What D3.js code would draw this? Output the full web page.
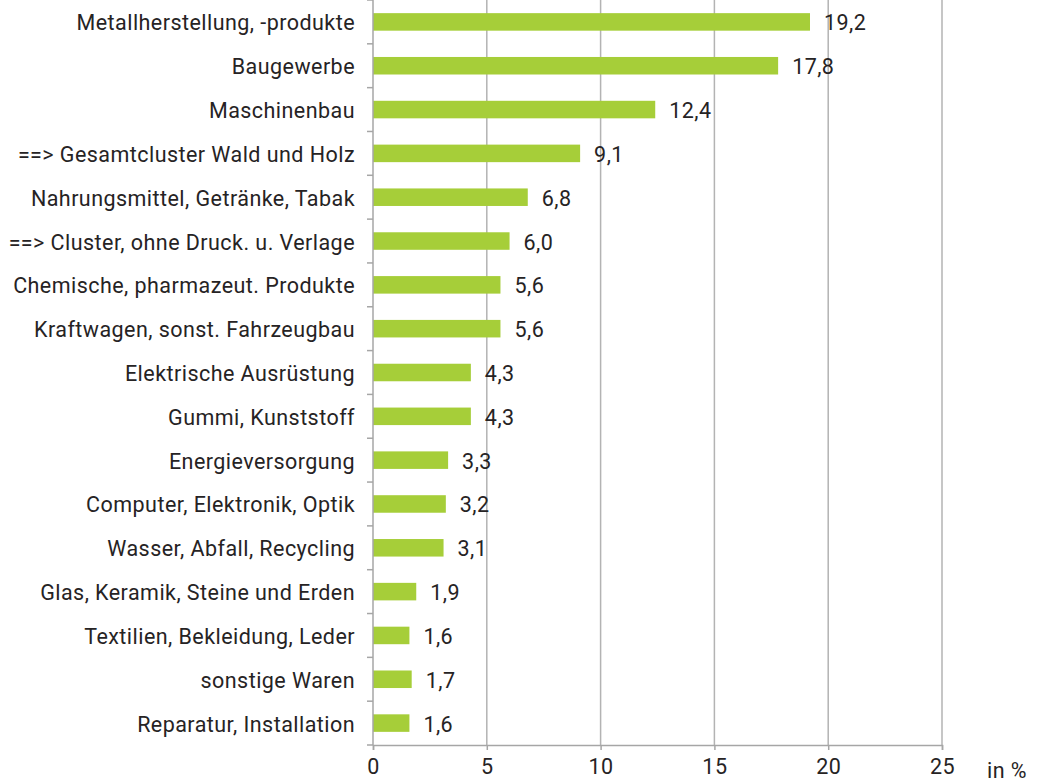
<!DOCTYPE html>
<html>
<head>
<meta charset="utf-8">
<script src="https://cdn.jsdelivr.net/npm/d3@7"></script>
<style>
  html, body { margin: 0; padding: 0; background: #fff; }
  svg { display: block; }
  text { font-family: Roboto, "Open Sans", sans-serif; font-weight: 400; fill: #262324; letter-spacing: 0.45px; }
</style>
</head>
<body>
<svg id="chart" width="1040" height="782"></svg>
<script>
// Sectors and their shares (in %)
const categories = [
  "Metallherstellung, -produkte",
  "Baugewerbe",
  "Maschinenbau",
  "==> Gesamtcluster Wald und Holz",
  "Nahrungsmittel, Getränke, Tabak",
  "==> Cluster, ohne Druck. u. Verlage",
  "Chemische, pharmazeut. Produkte",
  "Kraftwagen, sonst. Fahrzeugbau",
  "Elektrische Ausrüstung",
  "Gummi, Kunststoff",
  "Energieversorgung",
  "Computer, Elektronik, Optik",
  "Wasser, Abfall, Recycling",
  "Glas, Keramik, Steine und Erden",
  "Textilien, Bekleidung, Leder",
  "sonstige Waren",
  "Reparatur, Installation"
];
const values = [19.2, 17.8, 12.4, 9.1, 6.8, 6.0, 5.6, 5.6, 4.3, 4.3, 3.3, 3.2, 3.1, 1.9, 1.6, 1.7, 1.6];
const xTicks = [0, 5, 10, 15, 20, 25];
const unitLabel = "in %";

const svg = d3.select("#chart");
const plotLeft = 373, plotRight = 942, plotTop = 0, plotBottom = 745;
const fontSize = 21.5;

const x = d3.scaleLinear().domain([0, 25]).range([plotLeft, plotRight]);
const y = d3.scaleBand().domain(categories).range([plotTop, plotBottom]).paddingInner(0.6).paddingOuter(0.3);
const band = d3.scaleBand().domain(categories).range([plotTop, plotBottom]);

const fmt = v => d3.format(".1f")(v).replace(".", ",");

// vertical gridlines
svg.append("g").selectAll("line")
  .data(xTicks.filter(t => t > 0))
  .join("line")
  .attr("x1", d => x(d)).attr("x2", d => x(d))
  .attr("y1", plotTop).attr("y2", plotBottom)
  .attr("stroke", "#b3b3b3").attr("stroke-width", 1.5);

// bars
svg.append("g").selectAll("rect")
  .data(values)
  .join("rect")
  .attr("x", x(0))
  .attr("y", (d, i) => y(categories[i]))
  .attr("width", d => x(d) - x(0))
  .attr("height", y.bandwidth())
  .attr("fill", "#a6ce39");

// value labels
svg.append("g").selectAll("text")
  .data(values)
  .join("text")
  .attr("x", d => x(d) + 14)
  .attr("y", (d, i) => y(categories[i]) + y.bandwidth() / 2 + 1)
  .attr("dy", "0.35em")
  .attr("font-size", fontSize)
  .text(d => fmt(d));

// x axis
const xAxis = d3.axisBottom(x).tickValues(xTicks).tickSize(5).tickPadding(8).tickFormat(d3.format("d"));
const gx = svg.append("g").attr("transform", `translate(0,${plotBottom})`).call(xAxis);
gx.select(".domain").attr("stroke", "#a6a6a6").attr("stroke-width", 1.5);
gx.selectAll(".tick line").attr("stroke", "#a6a6a6").attr("stroke-width", 1.5);
gx.selectAll(".tick text")
  .attr("font-size", fontSize).attr("fill", "#262324")
  .attr("font-family", "Roboto, sans-serif")
  .attr("dy", "0.75em");

// unit label
svg.append("text")
  .attr("x", x(25) + 45).attr("y", plotBottom + 25)
  .attr("dy", "0.35em")
  .attr("text-anchor", "start")
  .attr("font-size", fontSize)
  .text(unitLabel);

// y axis: category names and band boundary ticks
const gy = svg.append("g");
gy.append("line")
  .attr("x1", plotLeft).attr("x2", plotLeft)
  .attr("y1", plotTop).attr("y2", plotBottom)
  .attr("stroke", "#a6a6a6").attr("stroke-width", 1.5);
gy.selectAll("line.bt")
  .data(categories.map(c => band(c)).concat([plotBottom]))
  .join("line").attr("class", "bt")
  .attr("x1", plotLeft - 6).attr("x2", plotLeft)
  .attr("y1", d => d).attr("y2", d => d)
  .attr("stroke", "#a6a6a6").attr("stroke-width", 1.5);
gy.selectAll("text")
  .data(categories)
  .join("text")
  .attr("x", plotLeft - 18)
  .attr("y", d => band(d) + band.bandwidth() / 2 + 1)
  .attr("dy", "0.35em")
  .attr("text-anchor", "end")
  .attr("font-size", fontSize)
  .text(d => d);
</script>
</body>
</html>
